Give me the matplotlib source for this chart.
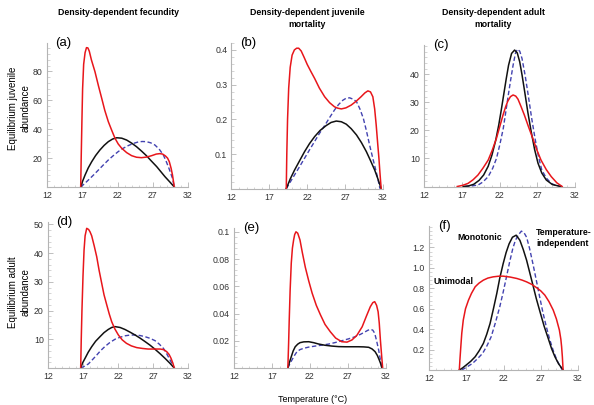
"""Equilibrium juvenile / adult abundance vs temperature, six panels (a)-(f)."""
import matplotlib
matplotlib.use("Agg")
import matplotlib.pyplot as plt
from matplotlib.ticker import MultipleLocator, AutoMinorLocator, FixedLocator

plt.rcParams["font.family"] = ["Liberation Sans", "DejaVu Sans"]

RED = "#e8161b"
BLUE = "#4242b0"
BLACK = "#111111"

# ---- panel (a): juvenile abundance, density-dependent fecundity ----
a_red_x = [16.78, 16.85, 16.95, 17.05, 17.2, 17.4, 17.6, 17.8, 18.0, 18.3, 18.8, 19.3, 19.76,
           20.2, 20.7, 21.2, 21.65, 22.1, 22.6, 23.3, 24.0, 24.7, 25.4, 26.1, 26.85, 27.5,
           28.0, 28.4, 28.8, 29.1, 29.35, 29.6, 29.8, 29.95, 30.06]
a_red_y = [0, 20, 45, 68, 85, 93, 96.5, 96.3, 94, 88, 79.9, 70, 61.4,
           53, 45.2, 39, 33.7, 29.8, 26.8, 23.8, 21.7, 20.6, 20.3, 20.7, 21.7, 22.8,
           23.1, 22.8, 21.5, 20, 17.5, 13, 8.3, 3.5, 0]
a_blk_x = [16.78, 17.05, 17.4, 17.85, 18.34, 18.9, 19.5, 20.1, 20.7, 21.3, 21.9, 22.6, 23.3,
           24.0, 24.7, 25.4, 26.1, 26.8, 27.56, 28.15, 28.74, 29.4, 30.06]
a_blk_y = [0, 4, 8.3, 13.2, 17.5, 21.8, 25.6, 28.8, 31.4, 33.2, 34.1, 33.8, 32.5,
           30.4, 27.9, 24.9, 21.7, 18.0, 14.1, 10.6, 7.1, 3.6, 0]
a_blu_x = [16.78, 17.3, 17.86, 18.6, 19.3, 20.0, 20.7, 21.4, 22.1, 22.8, 23.5, 24.2, 24.95,
           25.5, 26.1, 26.7, 27.3, 27.9, 28.5, 28.9, 29.3, 29.8, 30.06]
a_blu_y = [0, 2.2, 4.8, 8.3, 11.8, 15.3, 18.7, 21.7, 24.5, 26.8, 28.6, 30.1, 31.2,
           31.5, 31.4, 30.6, 29.1, 26.3, 22.2, 17.8, 12.9, 6.0, 0]

# ---- panel (b): juvenile abundance, density-dependent juvenile mortality ----
b_red_x = [19.23, 19.3, 19.4, 19.55, 19.75, 20.0, 20.3, 20.6, 20.87, 21.2, 21.6, 22.0, 22.5,
           22.97, 23.6, 24.3, 24.95, 25.6, 26.05, 26.5, 27.1, 27.8, 28.45, 29.1, 29.6, 30.0,
           30.35, 30.66, 30.9, 31.1, 31.3, 31.46, 31.6, 31.76]
b_red_y = [0, 0.1, 0.2, 0.29, 0.35, 0.385, 0.4, 0.405, 0.405, 0.397, 0.378, 0.358, 0.337,
           0.318, 0.29, 0.265, 0.248, 0.236, 0.232, 0.230, 0.233, 0.241, 0.252, 0.265, 0.276, 0.282,
           0.279, 0.265, 0.23, 0.184, 0.13, 0.088, 0.045, 0]
b_blk_x = [19.23, 19.75, 20.33, 21.0, 21.65, 22.3, 22.97, 23.7, 24.5, 25.15, 25.83, 26.5, 27.15,
           27.8, 28.5, 29.15, 29.8, 30.35, 30.9, 31.35, 31.76]
b_blk_y = [0, 0.028, 0.054, 0.081, 0.107, 0.130, 0.150, 0.168, 0.182, 0.191, 0.195, 0.193, 0.186,
           0.173, 0.155, 0.133, 0.107, 0.081, 0.054, 0.027, 0]
b_blu_x = [19.23, 19.75, 20.33, 21.0, 21.65, 22.3, 22.97, 23.6, 24.3, 24.95, 25.6, 26.15, 26.7,
           27.15, 27.6, 28.05, 28.5, 28.95, 29.4, 29.8, 30.23, 30.65, 31.1, 31.35, 31.6]
b_blu_y = [0, 0.019, 0.040, 0.064, 0.088, 0.112, 0.136, 0.159, 0.182, 0.205, 0.227, 0.243, 0.255,
           0.261, 0.262, 0.258, 0.251, 0.23, 0.203, 0.168, 0.126, 0.088, 0.049, 0.025, 0]

# ---- panel (c): juvenile abundance, density-dependent adult mortality ----
c_red_x = [16.4, 17.1, 17.83, 18.5, 19.15, 19.8, 20.5, 21.05, 21.6, 22.05, 22.46, 22.8, 23.1,
           23.45, 23.8, 24.15, 24.45, 24.85, 25.3, 25.85, 26.4, 26.95, 27.5, 28.2, 28.86, 29.6,
           30.3]
c_red_y = [0, 0.4, 1.1, 2.4, 4.1, 6.5, 9.4, 13.0, 17.2, 21.5, 25.4, 28.3, 30.4,
           32.0, 32.6, 32.2, 31.1, 28.5, 25.4, 21.2, 17.2, 13.0, 9.4, 6.0, 3.5, 1.3,
           0]
c_blk_x = [17.2, 17.9, 18.6, 19.3, 19.9, 20.5, 21.0, 21.5, 21.9, 22.25, 22.55, 22.9, 23.2,
           23.6, 24.0, 24.35, 24.68, 25.0, 25.34, 25.75, 26.2, 26.65, 27.1, 27.6, 28.2, 29.0,
           30.1]
c_blk_y = [0, 0.2, 0.8, 2.2, 4.1, 7.2, 11.2, 16.5, 21.9, 27.5, 32.6, 38.5, 43.2,
           47.4, 48.6, 47.6, 44.4, 39.5, 33.7, 26.5, 19.5, 13.2, 8.3, 4.8, 2.3, 0.7,
           0]
c_blu_x = [17.4, 18.3, 19.15, 19.8, 20.5, 21.1, 21.6, 22.05, 22.5, 22.8, 23.1, 23.45, 23.8,
           24.1, 24.36, 24.68, 24.98, 25.4, 25.8, 26.25, 26.7, 27.15, 27.6, 28.2, 28.86, 29.5,
           30.3]
c_blu_y = [0, 0.2, 0.5, 1.6, 3.5, 6.5, 10.0, 15.0, 20.7, 26.0, 31.4, 37.5, 43.2,
           47.3, 48.9, 48.2, 45.6, 39.5, 32.6, 24.5, 17.2, 10.8, 5.9, 3.0, 1.1, 0.3,
           0]

# ---- panel (d): adult abundance, density-dependent fecundity ----
d_red_x = [16.67, 16.75, 16.85, 17.0, 17.15, 17.3, 17.53, 17.8, 18.0, 18.24, 18.6, 18.96, 19.3,
           19.67, 20.0, 20.4, 20.75, 21.1, 21.55, 22.05, 22.6, 23.2, 23.9, 24.67, 25.5, 26.3,
           27.2, 28.0, 28.5, 28.95, 29.3, 29.57, 29.85, 30.04]
d_red_y = [0, 10, 20, 32, 41, 46, 48.6, 48.2, 47.4, 46.0, 42.5, 38.7, 34, 29.5, 25.5, 21.9,
           18.8, 16.1, 13.6, 11.5, 9.8, 8.6, 7.7, 7.1, 6.8, 6.6, 6.6, 6.6, 6.4, 5.7, 4.7,
           3.4, 1.6, 0]
d_blk_x = [16.67, 16.95, 17.3, 17.75, 18.24, 18.8, 19.43, 20.0, 20.6, 21.1, 21.57, 22.3, 23.0,
           23.7, 24.43, 25.15, 25.86, 26.6, 27.3, 28.0, 28.7, 29.4, 30.04]
d_blk_y = [0, 1.8, 3.4, 5.5, 7.4, 9.3, 10.9, 12.3, 13.4, 14.1, 14.4, 14.1, 13.4,
           12.5, 11.5, 10.4, 9.2, 7.9, 6.5, 5.0, 3.4, 1.7, 0]
d_blu_x = [16.67, 17.2, 17.76, 18.35, 18.96, 19.5, 20.1, 20.8, 21.57, 22.3, 23.0, 23.7, 24.43,
           25.15, 25.86, 26.6, 27.3, 27.9, 28.5, 28.9, 29.3, 29.7, 30.04]
d_blu_y = [0, 0.6, 1.4, 2.9, 4.5, 6.0, 7.4, 8.8, 10.0, 10.7, 11.2, 11.45, 11.5,
           11.3, 10.9, 10.3, 9.5, 8.3, 6.8, 5.2, 3.4, 1.6, 0]

# ---- panel (e): adult abundance, density-dependent juvenile mortality ----
e_red_x = [19.1, 19.2, 19.28, 19.4, 19.55, 19.7, 19.86, 20.0, 20.17, 20.4, 20.7, 21.0, 21.4,
           21.85, 22.3, 22.85, 23.4, 24.0, 24.7, 25.4, 26.2, 26.9, 27.55, 28.2, 28.9, 29.45,
           29.97, 30.3, 30.55, 30.8, 31.0, 31.15, 31.3, 31.45, 31.6]
e_red_y = [0, 0.018, 0.035, 0.057, 0.077, 0.088, 0.094, 0.098, 0.100, 0.099, 0.094, 0.085,
           0.074, 0.064, 0.055, 0.046, 0.039, 0.032, 0.0266, 0.022, 0.0193, 0.019, 0.0206,
           0.024, 0.0303, 0.038, 0.045, 0.048, 0.0487, 0.046, 0.0413, 0.033, 0.0206, 0.01, 0]
e_blk_x = [19.1, 19.3, 19.55, 19.8, 20.07, 20.4, 20.7, 21.2, 21.85, 22.5, 23.16, 24.0, 24.9,
           25.8, 26.7, 27.55, 28.4, 29.1, 29.76, 30.2, 30.6, 30.9, 31.15, 31.35, 31.5]
e_blk_y = [0, 0.004, 0.0083, 0.0125, 0.0156, 0.0175, 0.0186, 0.0192, 0.0193, 0.0186, 0.0176,
           0.0167, 0.0161, 0.0157, 0.0156, 0.0156, 0.0156, 0.0155, 0.0152, 0.014, 0.012, 0.0092,
           0.0059, 0.003, 0]
e_blu_x = [19.1, 19.35, 19.64, 19.95, 20.3, 20.7, 21.2, 21.9, 22.7, 23.6, 24.5, 25.35, 26.2,
           27.1, 28.0, 28.7, 29.3, 29.65, 29.97, 30.3, 30.55, 30.8, 31.07, 31.3, 31.5]
e_blu_y = [0, 0.003, 0.0059, 0.009, 0.012, 0.0135, 0.0145, 0.0154, 0.0161, 0.0168, 0.0176,
           0.0187, 0.020, 0.0214, 0.023, 0.0248, 0.0266, 0.0277, 0.0284, 0.0278, 0.0255, 0.02,
           0.0132, 0.006, 0]

# ---- panel (f): adult abundance, density-dependent adult mortality ----
f_red_x = [16.07, 16.15, 16.27, 16.4, 16.6, 16.9, 17.3, 17.7, 18.2, 18.7, 19.3, 19.9, 20.6,
           21.3, 21.95, 22.9, 23.8, 24.5, 25.1, 25.8, 26.4, 27.0, 27.55, 28.1, 28.67, 29.1,
           29.5, 29.7, 29.8, 29.9, 30.0]
f_red_y = [0, 0.1, 0.228, 0.36, 0.489, 0.6, 0.684, 0.75, 0.815, 0.85, 0.88, 0.9, 0.912,
           0.918, 0.919, 0.91, 0.896, 0.88, 0.863, 0.838, 0.808, 0.775, 0.733, 0.67, 0.587, 0.5,
           0.391, 0.3, 0.228, 0.13, 0]
f_blk_x = [16.07, 16.5, 17.0, 17.6, 18.2, 18.75, 19.3, 19.75, 20.2, 20.65, 21.1, 21.5, 21.95,
           22.35, 22.75, 23.2, 23.7, 24.2, 24.65, 25.1, 25.5, 25.95, 26.4, 26.9, 27.45, 28.0,
           28.45, 28.9, 29.4, 30.0]
f_blk_y = [0, 0.02, 0.049, 0.085, 0.130, 0.19, 0.261, 0.35, 0.456, 0.6, 0.75, 0.9, 1.04,
           1.15, 1.235, 1.3, 1.32, 1.27, 1.18, 1.075, 0.96, 0.831, 0.7, 0.57, 0.43, 0.31,
           0.21, 0.130, 0.06, 0]
f_blu_x = [16.4, 17.1, 17.85, 18.5, 19.2, 19.8, 20.35, 20.9, 21.5, 21.95, 22.4, 22.8, 23.25,
           23.6, 23.97, 24.4, 24.75, 25.1, 25.5, 25.95, 26.4, 26.85, 27.3, 27.75, 28.2, 28.65,
           29.2, 29.9]
f_blu_y = [0, 0.03, 0.065, 0.11, 0.163, 0.24, 0.326, 0.46, 0.619, 0.76, 0.912, 1.05, 1.19,
           1.27, 1.32, 1.36, 1.345, 1.30, 1.19, 1.04, 0.88, 0.717, 0.56, 0.423, 0.3, 0.196,
           0.09, 0]

X_TICKS = [12, 17, 22, 27, 32]
TITLES = ["Density-dependent fecundity", "Density-dependent juvenile\nmortality",
          "Density-dependent adult\nmortality"]
YLABELS = ["Equilibrium juvenile\nabundance", "Equilibrium adult\nabundance"]

# panel: (key, data, yticks, ytick labels, ylim top, box in pixels left/right/top/bottom)
PANELS = [
    ("(a)", (a_red_x, a_red_y, a_blk_x, a_blk_y, a_blu_x, a_blu_y),
     [20, 40, 60, 80], ["20", "40", "60", "80"], 99.7, (47, 188, 43, 187)),
    ("(b)", (b_red_x, b_red_y, b_blk_x, b_blk_y, b_blu_x, b_blu_y),
     [0.1, 0.2, 0.3, 0.4], ["0.1", "0.2", "0.3", "0.4"], 0.42, (231.5, 383, 43, 188.7)),
    ("(c)", (c_red_x, c_red_y, c_blk_x, c_blk_y, c_blu_x, c_blu_y),
     [10, 20, 30, 40], ["10", "20", "30", "40"], 50.4, (424, 575, 45, 186.5)),
    ("(d)", (d_red_x, d_red_y, d_blk_x, d_blk_y, d_blu_x, d_blu_y),
     [10, 20, 30, 40, 50], ["10", "20", "30", "40", "50"], 50.8, (48, 188, 222, 368)),
    ("(e)", (e_red_x, e_red_y, e_blk_x, e_blk_y, e_blu_x, e_blu_y),
     [0.02, 0.04, 0.06, 0.08, 0.1], ["0.02", "0.04", "0.06", "0.08", "0.1"], 0.1028,
     (234, 385.7, 228, 368)),
    ("(f)", (f_red_x, f_red_y, f_blk_x, f_blk_y, f_blu_x, f_blu_y),
     [0.2, 0.4, 0.6, 0.8, 1.0, 1.2], ["0.2", "0.4", "0.6", "0.8", "1.0", "1.2"], 1.41,
     (429, 578, 226, 370)),
]

W, H = 594, 405
fig = plt.figure(figsize=(W / 100, H / 100), dpi=100)

for key, data, yt, ytl, ytop, (l, r, t, b) in PANELS:
    ax = fig.add_axes([l / W, 1 - b / H, (r - l) / W, (b - t) / H])
    rx, ry, kx, ky, bx, by = data
    ax.plot(bx, by, color=BLUE, lw=1.0, dashes=(3.2, 1.8), solid_joinstyle="round")
    ax.plot(kx, ky, color=BLACK, lw=1.1, solid_joinstyle="round")
    ax.plot(rx, ry, color=RED, lw=1.1, solid_joinstyle="round")
    ax.set_xlim(12, 32)
    ax.set_ylim(0, ytop)
    ax.xaxis.set_major_locator(FixedLocator(X_TICKS))
    ax.xaxis.set_minor_locator(MultipleLocator(1))
    ax.set_yticks(yt)
    ax.set_yticklabels(ytl)
    ax.yaxis.set_minor_locator(AutoMinorLocator(5))
    for s in ("top", "right"):
        ax.spines[s].set_visible(False)
    for s in ("left", "bottom"):
        ax.spines[s].set_color("#b4b4b4")
        ax.spines[s].set_linewidth(0.8)
    ax.tick_params(which="major", direction="in", length=3.5, width=0.6, color="#b4b4b4",
                   labelsize=6.3, labelcolor="#333333", pad=3)
    ax.tick_params(which="minor", direction="in", length=1.8, width=0.5, color="#c4c4c4")
    ax.text(0.06, 1.0, key, transform=ax.transAxes, fontsize=9.5, va="center", ha="left")

# column titles
for xc, title in zip([118, 307, 493], TITLES):
    fig.text(xc / W, 1 - 8 / H, title, ha="center", va="top", fontsize=6.3,
             fontweight="bold", linespacing=1.45)

# row labels
for yc, lab in zip([108, 292], YLABELS):
    fig.text(19 / W, 1 - yc / H, lab, ha="center", va="center", rotation=90,
             fontsize=7, linespacing=1.3)

fig.text(313 / W, 1 - 400 / H, "Temperature (°C)", ha="center", va="center", fontsize=6.5)

# curve labels in (f)
fig.text(457 / W, 1 - 238 / H, "Monotonic", fontsize=6.3, fontweight="bold",
         va="center", ha="left")
fig.text(536 / W, 1 - 238 / H, "Temperature-\nindependent", fontsize=6.3, fontweight="bold",
         va="center", ha="left", linespacing=1.3)
fig.text(434 / W, 1 - 281 / H, "Unimodal", fontsize=6.3, fontweight="bold",
         va="center", ha="left")

fig.savefig("out.png", dpi=100)
